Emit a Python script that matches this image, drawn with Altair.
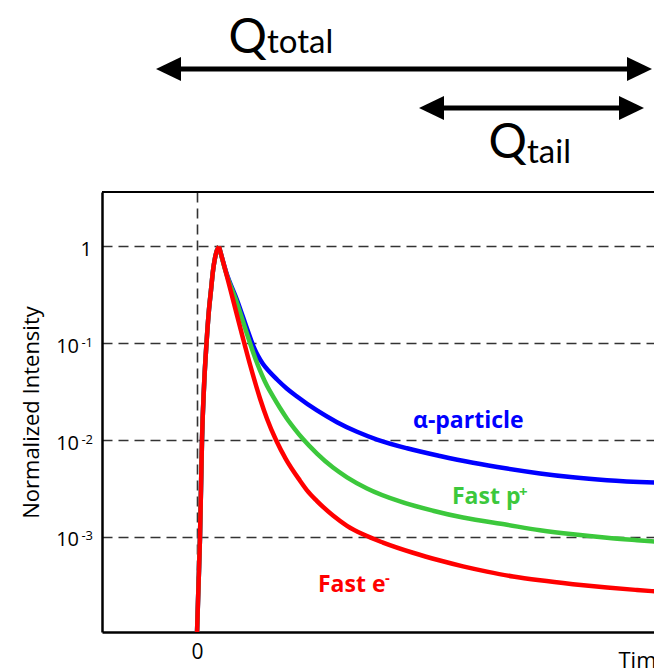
import altair as alt
import pandas as pd

# ---------------- data ----------------
# time axis: arbitrary units, 0 at the trigger line
rise_t = [0, 1.5, 3, 4, 5, 7, 9.5, 12, 14, 16, 18, 20, 22]
rise_v = [0.0001, 0.000316, 0.001, 0.00316, 0.01, 0.0355, 0.1, 0.224, 0.355, 0.562, 0.759, 0.912, 1.0]

alpha_t = [29, 40, 53, 57, 61, 66, 72, 80, 90, 100, 120, 140, 160, 180, 210, 243, 276, 310, 343, 376, 410, 460]
alpha_v = [0.55, 0.28, 0.116, 0.0902, 0.0741, 0.0610, 0.0513, 0.0422, 0.0339, 0.0282, 0.0202, 0.0153,
           0.01216, 0.01012, 0.00822, 0.00684, 0.00582, 0.00507, 0.00452, 0.00412, 0.00385, 0.00363]

proton_t = [29, 39, 51, 56, 61, 65, 70, 76, 83, 90, 98, 106, 120, 136, 150, 170, 203, 236, 266, 310,
            343, 376, 410, 440, 460]
proton_v = [0.537, 0.28, 0.116, 0.0813, 0.0589, 0.0468, 0.0363, 0.0282, 0.0214, 0.0166, 0.0129, 0.01023,
            0.00724, 0.00519, 0.00412, 0.00316, 0.00232, 0.00186, 0.00158, 0.00133, 0.00117, 0.00106,
            0.000977, 0.000923, 0.000891]

electron_t = [29, 36, 46, 53, 63, 70, 79, 89, 103, 110, 120, 136, 150, 166, 186, 216, 243, 266, 290,
              316, 343, 376, 410, 440, 460]
electron_v = [0.537, 0.282, 0.1122, 0.0603, 0.0269, 0.0166, 0.0100, 0.00631, 0.00380, 0.00302, 0.00234,
              0.00166, 0.00130, 0.00106, 0.000871, 0.000684, 0.000569, 0.000495, 0.000437, 0.000389,
              0.000355, 0.000324, 0.000299, 0.000282, 0.000272]

series_names = ["α-particle", "Fast p", "Fast e"]
series_colors = ["#0000ff", "#3cc83c", "#ff0000"]
label_t = [216, 255, 121]
label_v = [0.0133, 0.00218, 0.000269]
sup_text = ["+", "-"]
sup_t = [322, 188]
sup_v = [0.00258, 0.000333]
sup_series = ["Fast p", "Fast e"]

tick_values = [1, 0.1, 0.01, 0.001]
tick_base = ["1", "10", "10", "10"]
tick_exp = ["", "-1", "-2", "-3"]

# charge-integration windows (time units)
q_names = ["total", "tail"]
q_start = [-41, 222]
q_end = [455, 447]
q_text_t = [70, 330]

# ---------------- layout ----------------
W, H = 552, 440
XSCALE = alt.Scale(domain=[-95, 457], nice=False, zero=False)
YSCALE = alt.Scale(type="log", domain=[1.038e-4, 3.656], nice=False)
AX_FONT = "Open Sans"

series_data = [(alpha_t, alpha_v), (proton_t, proton_v), (electron_t, electron_v)]

layers = []

# top frame line
layers.append(
    alt.Chart(pd.DataFrame({"a": [0]})).mark_rule(color="black", strokeWidth=2).encode(
        x=alt.value(0), x2=alt.value(W), y=alt.value(0)
    )
)

for i, (name, (st, sv)) in enumerate(zip(series_names, series_data)):
    # rise part and decay part (both include the peak) so the peak stays sharp
    df = pd.DataFrame({
        "t": rise_t + [rise_t[-1]] + st,
        "v": rise_v + [rise_v[-1]] + sv,
        "part": ["rise"] * len(rise_t) + ["decay"] * (len(st) + 1),
    })
    enc_x = alt.X("t:Q", scale=XSCALE)
    enc_y = alt.Y("v:Q", scale=YSCALE)
    if i == 0:
        enc_x = alt.X(
            "t:Q", scale=XSCALE, title="Time",
            axis=alt.Axis(values=[0], grid=True, gridDash=[10, 6], gridColor="#333333", gridWidth=1.6,
                          gridOpacity=1, ticks=False, domainColor="black", domainWidth=2.5,
                          labelFont=AX_FONT, labelFontSize=21, labelColor="black", labelPadding=9,
                          titleFont=AX_FONT, titleFontSize=22, titleFontWeight="normal", titleColor="black",
                          titleX=516, titleY=35, titleAlign="left", titleBaseline="alphabetic"),
        )
        enc_y = alt.Y(
            "v:Q", scale=YSCALE, title="Normalized Intensity",
            axis=alt.Axis(values=tick_values, grid=True, gridDash=[10, 6], gridColor="#333333",
                          gridWidth=1.6, gridOpacity=1, ticks=False, labels=False,
                          domainColor="black", domainWidth=2.5,
                          titleFont=AX_FONT, titleFontSize=22, titleFontWeight="normal", titleColor="black",
                          titleX=-64, titleY=H / 2, titleAlign="center", titleBaseline="alphabetic",
                          titleAngle=270),
        )
    layers.append(
        alt.Chart(df).mark_line(strokeWidth=4.5, clip=True, color=series_colors[i],
                                interpolate="monotone").encode(
            x=enc_x, y=enc_y, detail="part:N", order=alt.Order("t:Q")
        )
    )

# series labels
for i, name in enumerate(series_names):
    ldf = pd.DataFrame({"t": [label_t[i]], "v": [label_v[i]], "label": [name]})
    layers.append(
        alt.Chart(ldf).mark_text(align="left", baseline="alphabetic", font="Open Sans", fontSize=23,
                                 fontWeight="bold", color=series_colors[i]).encode(
            x=alt.X("t:Q", scale=XSCALE), y=alt.Y("v:Q", scale=YSCALE), text="label:N"
        )
    )
for j, s in enumerate(sup_series):
    sdf = pd.DataFrame({"t": [sup_t[j]], "v": [sup_v[j]], "label": [sup_text[j]]})
    layers.append(
        alt.Chart(sdf).mark_text(align="left", baseline="alphabetic", font="Open Sans", fontSize=15,
                                 fontWeight="bold", color=series_colors[series_names.index(s)]).encode(
            x=alt.X("t:Q", scale=XSCALE), y=alt.Y("v:Q", scale=YSCALE), text="label:N"
        )
    )

# y tick labels with superscript exponents
tdf = pd.DataFrame({"v": tick_values, "base": tick_base, "exp": tick_exp})
layers.append(
    alt.Chart(tdf).transform_filter("datum.exp == ''").mark_text(
        align="right", baseline="alphabetic", font=AX_FONT, fontSize=20, color="black", dy=9.5
    ).encode(x=alt.value(-10), y=alt.Y("v:Q", scale=YSCALE), text="base:N")
)
layers.append(
    alt.Chart(tdf).transform_filter("datum.exp != ''").mark_text(
        align="right", baseline="alphabetic", font=AX_FONT, fontSize=20, color="black", dy=9.5
    ).encode(x=alt.value(-23), y=alt.Y("v:Q", scale=YSCALE), text="base:N")
)
layers.append(
    alt.Chart(tdf).transform_filter("datum.exp != ''").mark_text(
        align="right", baseline="alphabetic", font=AX_FONT, fontSize=13, color="black", dy=3.5
    ).encode(x=alt.value(-9), y=alt.Y("v:Q", scale=YSCALE), text="exp:N")
)

# Q_total / Q_tail double arrows above the plot
arrow_y = [-123, -84]
q_base_y = [-139, -34]
q_sub_y = [-139, -29]
LEFT_HEAD = "M0,0 L2,-0.96 L2,0.96 Z"
RIGHT_HEAD = "M0,0 L-2,-0.96 L-2,0.96 Z"
for k in range(2):
    adf = pd.DataFrame({"t": [q_start[k]], "t_end": [q_end[k]]})
    layers.append(
        alt.Chart(adf).mark_rule(color="black", strokeWidth=5, xOffset=12, x2Offset=-12).encode(
            x=alt.X("t:Q", scale=XSCALE), x2="t_end:Q", y=alt.value(arrow_y[k])
        )
    )
    layers.append(
        alt.Chart(adf).mark_point(shape=LEFT_HEAD, size=625, filled=True, color="black", opacity=1,
                                  strokeWidth=0).encode(
            x=alt.X("t:Q", scale=XSCALE), y=alt.value(arrow_y[k])
        )
    )
    layers.append(
        alt.Chart(adf).mark_point(shape=RIGHT_HEAD, size=625, filled=True, color="black", opacity=1,
                                  strokeWidth=0).encode(
            x=alt.X("t_end:Q", scale=XSCALE), y=alt.value(arrow_y[k])
        )
    )
    qdf = pd.DataFrame({"t": [q_text_t[k]], "q": ["Q"], "sub": [q_names[k]]})
    layers.append(
        alt.Chart(qdf).mark_text(align="right", baseline="alphabetic", font="Lato", fontSize=48,
                                 color="black").encode(
            x=alt.X("t:Q", scale=XSCALE), y=alt.value(q_base_y[k]), text="q:N"
        )
    )
    layers.append(
        alt.Chart(qdf).mark_text(align="left", baseline="alphabetic", font="Lato", fontSize=33,
                                 color="black").encode(
            x=alt.X("t:Q", scale=XSCALE), y=alt.value(q_sub_y[k]), text="sub:N"
        )
    )

chart = alt.layer(*layers).properties(
    width=W, height=H,
    padding={"left": 102, "top": 192, "right": 0, "bottom": 37},
    autosize=alt.AutoSizeParams(type="none"),
    background="white",
).configure_view(stroke=None)

chart.save("out.html", embed_options={"renderer": "svg", "actions": False})
